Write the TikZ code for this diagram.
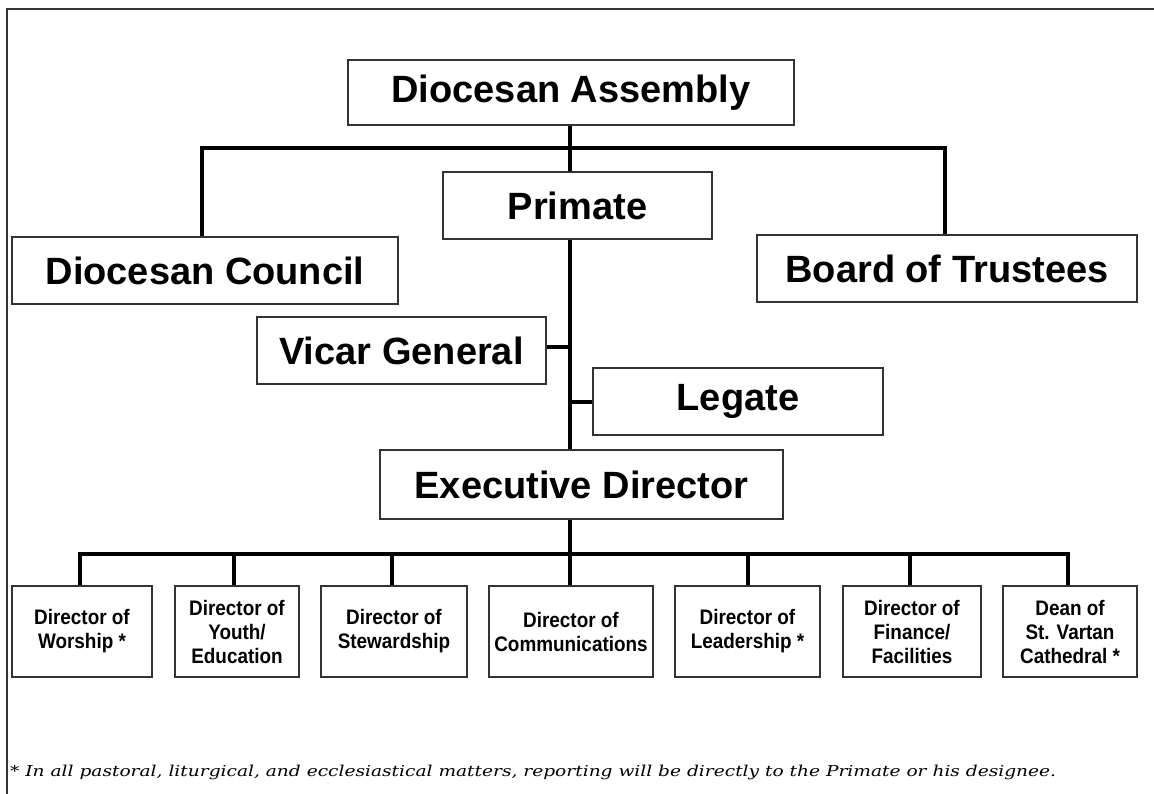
\documentclass[tikz,border=0pt]{standalone}
\usepackage{fontspec}
\setmainfont{Liberation Sans}
\newfontfamily\bigfont{Liberation Sans}
\newfontfamily\condfont{Liberation Sans}[FakeStretch=0.9]
\newfontfamily\fnfont{DejaVu Serif}[FakeStretch=1.24]
\usetikzlibrary{backgrounds}
\begin{document}
\begin{tikzpicture}[x=1pt,y=-1pt,
  bigbox/.style={draw=black!80, line width=1.4pt, fill=white, inner sep=0pt,
    minimum height=67pt, font=\bigfont\bfseries\fontsize{38}{40}\selectfont},
  smallbox/.style={draw=black!80, line width=1.4pt, fill=white, inner sep=0pt,
    minimum height=91pt, align=center, font=\condfont\bfseries\fontsize{21}{24}\selectfont},
  conn/.style={line width=4pt, black, line join=miter},
  frameline/.style={line width=1.2pt, black!80}]
\useasboundingbox (0,0) rectangle (1154,794);
\draw[frameline] (7,794) -- (7,9) -- (1154,9);

% upper boxes
\node[bigbox, minimum width=446pt, minimum height=65pt] (da) at (571,92.5) {Diocesan Assembly};
\node[bigbox, minimum width=269pt] (pri) at (577.5,205.5) {Primate};
\node[bigbox, minimum width=386pt] (dc) at (205,270.5) {Diocesan Council};
\node[bigbox, minimum width=380pt] (bt) at (947,268.5) {Board of Trustees};
\node[bigbox, minimum width=289pt] (vg) at (401.5,350.5) {Vicar General};
\node[bigbox, minimum width=290pt] (leg) at (738,401.5) {Legate};
\node[bigbox, minimum width=403pt, minimum height=69pt] (ed) at (581.5,484.5) {Executive Director};

% lower boxes
\node[smallbox, minimum width=140pt] (b1) at (82,631.5) {Director of\\Worship *};
\node[smallbox, minimum width=124pt] (b2) at (237,631.5) {Director of\\Youth/\\Education};
\node[smallbox, minimum width=146pt] (b3) at (394,631.5) {Director of\\Stewardship};
\node[smallbox, minimum width=164pt] (b4) at (571,631.5) {Director of\\Communications};
\node[smallbox, minimum width=145pt] (b5) at (747.5,631.5) {Director of\\Leadership *};
\node[smallbox, minimum width=138pt] (b6) at (912,631.5) {Director of\\Finance/\\Facilities};
\node[smallbox, minimum width=134pt] (b7) at (1070,631.5) {Dean of\\St. Vartan\\Cathedral *};

% footnote
\node[anchor=base west, inner sep=0pt, font=\fnfont\itshape\fontsize{15}{17}\selectfont] (fn) at (10,776)
  {* In all pastoral, liturgical, and ecclesiastical matters, reporting will be directly to the Primate or his designee.};

% helper coordinates
\coordinate (trunk) at (570,0);
\coordinate (lx) at (202,0);
\coordinate (rx) at (945,0);
\coordinate (topbus) at (0,148);
\coordinate (lowbus) at (0,554);
\coordinate (c1) at (79.5,0);
\coordinate (c2) at (234,0);
\coordinate (c3) at (392,0);
\coordinate (c5) at (748,0);
\coordinate (c6) at (910,0);
\coordinate (c7) at (1068,0);
\coordinate (vgc) at ([yshift=3.5pt]vg.east);

\begin{pgfonlayer}{background}
\draw[conn] (da.south -| trunk) -- (pri.north -| trunk);
\draw[conn] (dc.north -| lx) -- (lx |- topbus) -- (rx |- topbus) -- (bt.north -| rx);
\draw[conn] (pri.south -| trunk) -- (ed.north -| trunk);
\draw[conn] (vgc) -- (vgc -| trunk);
\draw[conn] (leg.west -| trunk) -- (leg.west);
\draw[conn] (ed.south -| trunk) -- (trunk |- lowbus);
\draw[conn] (b1.north -| c1) -- (c1 |- lowbus) -- (c7 |- lowbus) -- (b7.north -| c7);
\draw[conn] (c2 |- lowbus) -- (b2.north -| c2);
\draw[conn] (c3 |- lowbus) -- (b3.north -| c3);
\draw[conn] (trunk |- lowbus) -- (b4.north -| trunk);
\draw[conn] (c5 |- lowbus) -- (b5.north -| c5);
\draw[conn] (c6 |- lowbus) -- (b6.north -| c6);
\end{pgfonlayer}
\end{tikzpicture}
\end{document}
